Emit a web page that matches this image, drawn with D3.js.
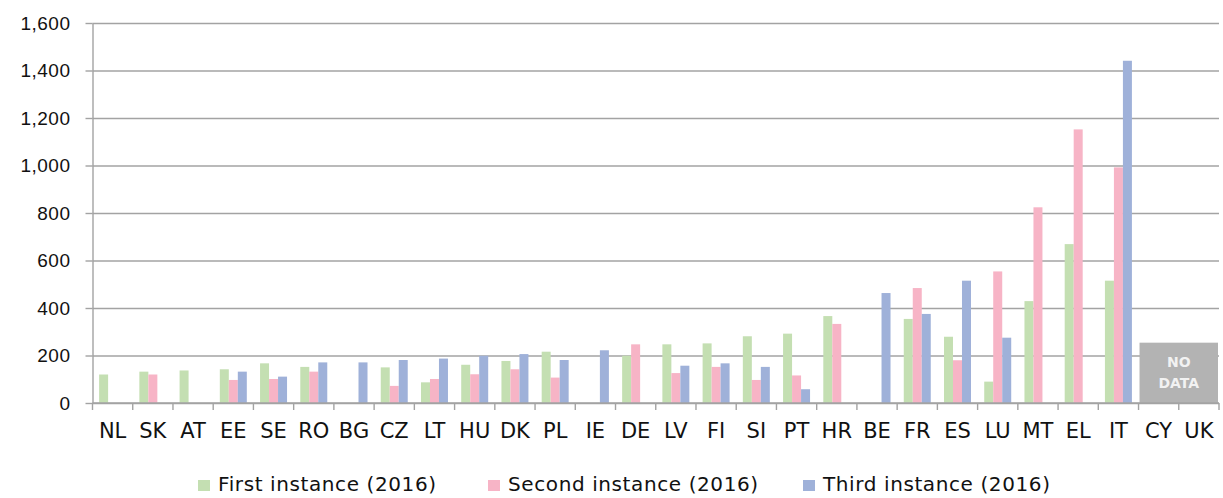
<!DOCTYPE html>
<html>
<head>
<meta charset="utf-8">
<script src="https://cdn.jsdelivr.net/npm/d3@7"></script>
<style>
  html, body { margin: 0; padding: 0; background: #fff; }
  svg { display: block; font-family: "DejaVu Sans", sans-serif; }
</style>
</head>
<body>
<svg id="chart" width="1223" height="498"></svg>
<script>
var COUNTRIES = ["NL", "SK", "AT", "EE", "SE", "RO", "BG", "CZ", "LT", "HU", "DK", "PL", "IE", "DE",
  "LV", "FI", "SI", "PT", "HR", "BE", "FR", "ES", "LU", "MT", "EL", "IT", "CY", "UK"];
var SERIES = ["First instance (2016)", "Second instance (2016)", "Third instance (2016)"];
var FIRST = [120, 132, 137, 142, 167, 152, null, 150, 87, 161, 177, 216, null, 199,
  247, 251, 281, 292, 366, null, 354, 279, 90, 429, 669, 515, null, null];
var SECOND = [null, 120, null, 97, 101, 132, null, 72, 101, 121, 142, 107, null, 247,
  126, 152, 97, 116, 333, null, 484, 180, 554, 824, 1152, 992, null, null];
var THIRD = [null, null, null, 132, 111, 171, 171, 181, 187, 199, 206, 181, 222, null,
  157, 167, 152, 58, null, 463, 375, 515, 275, null, null, 1441, null, null];
var Y_TICKS = [0, 200, 400, 600, 800, 1000, 1200, 1400, 1600];
var NO_DATA = ["CY", "UK"];
var NO_DATA_VALUE = 254;
var COLORS = ["#c4dfb2", "#f7b4c6", "#9fb1d9"];

var margin = {top: 23, right: 4, bottom: 95, left: 92.5};
var W = 1223, H = 498;
var width = W - margin.left - margin.right;
var height = H - margin.top - margin.bottom;

var svg = d3.select("#chart");
var g = svg.append("g").attr("transform", "translate(" + margin.left + "," + margin.top + ")");

var x = d3.scaleBand().domain(COUNTRIES).range([0, width]);
var xs = d3.scaleBand().domain(SERIES).range([0, x.bandwidth()]).paddingOuter(0.736);
var y = d3.scaleLinear().domain([0, 1600]).range([height, 0]);

// grid
g.append("g")
    .call(d3.axisLeft(y).tickValues(Y_TICKS).tickSize(-width).tickFormat(""))
    .call(function(s) {
        s.select(".domain").remove();
        s.selectAll("line").attr("stroke", "#a3a3a3").attr("stroke-width", 1.4);
    });

// y axis
var gy = g.append("g")
    .call(d3.axisLeft(y).tickValues(Y_TICKS).tickSize(7).tickSizeOuter(0).tickPadding(15)
        .tickFormat(d3.format(",")));
gy.select(".domain").attr("stroke", "#a3a3a3").attr("stroke-width", 1.4);
gy.selectAll("line").attr("stroke", "#a3a3a3").attr("stroke-width", 1.4);
gy.selectAll("text").attr("font-size", 19).attr("letter-spacing", 0.5).attr("fill", "#111");

// bars
var seriesData = [FIRST, SECOND, THIRD];
seriesData.forEach(function(vals, si) {
    g.append("g").selectAll("rect")
        .data(COUNTRIES.map(function(c, i) { return {c: c, v: vals[i]}; })
            .filter(function(d) { return d.v !== null; }))
        .enter().append("rect")
            .attr("x", function(d) { return x(d.c) + xs(SERIES[si]); })
            .attr("y", function(d) { return y(d.v); })
            .attr("width", xs.bandwidth())
            .attr("height", function(d) { return height - y(d.v); })
            .attr("fill", COLORS[si]);
});

// no data box
var nx0 = x(NO_DATA[0]) + 1;
var nx1 = x(NO_DATA[NO_DATA.length - 1]) + x.bandwidth() - 1;
g.append("rect")
    .attr("x", nx0)
    .attr("y", y(NO_DATA_VALUE))
    .attr("width", nx1 - nx0)
    .attr("height", height - y(NO_DATA_VALUE))
    .attr("fill", "#b3b3b3");
var ncx = (nx0 + nx1) / 2;
var nyc = (y(NO_DATA_VALUE) + height) / 2;
["NO", "DATA"].forEach(function(t, i) {
    g.append("text")
        .attr("x", ncx)
        .attr("y", nyc - 6 + i * 21)
        .attr("text-anchor", "middle")
        .attr("font-size", 14)
        .attr("font-weight", "bold")
        .attr("fill", "#f2f2f2")
        .text(t);
});

// x axis: baseline, boundary ticks, labels
g.append("line")
    .attr("x1", 0).attr("x2", width)
    .attr("y1", height).attr("y2", height)
    .attr("stroke", "#a3a3a3").attr("stroke-width", 1.4);
var bounds = COUNTRIES.map(function(c) { return x(c); }).concat([width]);
g.append("g").selectAll("line")
    .data(bounds)
    .enter().append("line")
        .attr("x1", function(d) { return d; }).attr("x2", function(d) { return d; })
        .attr("y1", height).attr("y2", height + 7)
        .attr("stroke", "#a3a3a3").attr("stroke-width", 1.4);
g.append("g").selectAll("text")
    .data(COUNTRIES)
    .enter().append("text")
        .attr("x", function(d) { return x(d) + x.bandwidth() / 2; })
        .attr("y", height + 35)
        .attr("text-anchor", "middle")
        .attr("font-size", 21)
        .attr("fill", "#111")
        .text(function(d) { return d; });

// legend
var LEGEND_X = [198, 488, 803];
var legend = svg.append("g");
SERIES.forEach(function(s, i) {
    legend.append("rect")
        .attr("x", LEGEND_X[i]).attr("y", 480)
        .attr("width", 12).attr("height", 11)
        .attr("fill", COLORS[i]);
    legend.append("text")
        .attr("x", LEGEND_X[i] + 20).attr("y", 491)
        .attr("font-size", 20)
        .attr("letter-spacing", 0.6)
        .attr("fill", "#111")
        .text(s);
});
</script>
</body>
</html>
